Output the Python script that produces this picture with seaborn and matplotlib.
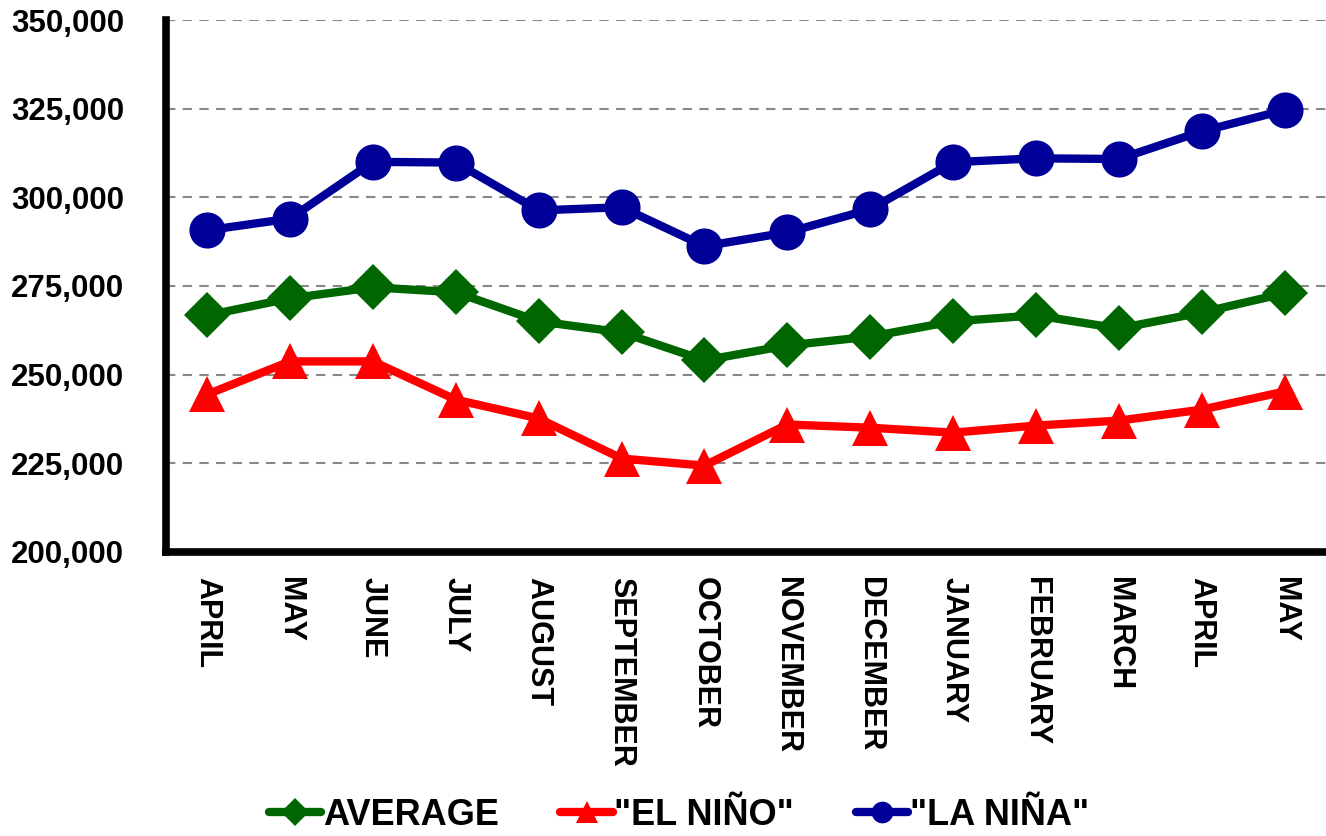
import matplotlib
matplotlib.use("Agg")
import matplotlib.pyplot as plt
import matplotlib.ticker as mticker
import seaborn as sns
import pandas as pd

months = ["APRIL", "MAY", "JUNE", "JULY", "AUGUST", "SEPTEMBER", "OCTOBER",
          "NOVEMBER", "DECEMBER", "JANUARY", "FEBRUARY", "MARCH", "APRIL", "MAY"]
average = [266700, 271500, 274600, 273200, 265000, 261900, 254000,
           258200, 260700, 265000, 266700, 263000, 267500, 272900]
el_nino = [244400, 253700, 253700, 242900, 237600, 226300, 224300,
           235900, 235000, 233600, 235600, 237000, 240100, 245200]
la_nina = [290700, 294000, 310000, 309800, 296300, 297200, 286200,
           290100, 296600, 309900, 311000, 310800, 318600, 324600]

sns.set_theme(style="white")
plt.rcParams["font.family"] = ["Liberation Sans", "DejaVu Sans"]
plt.rcParams["font.weight"] = "bold"
plt.rcParams["text.color"] = "black"
plt.rcParams["xtick.color"] = "black"
plt.rcParams["ytick.color"] = "black"

fig = plt.figure(figsize=(13.26, 8.36), dpi=100)
ax = fig.add_axes([0.125, 0.340, 0.875, 0.636])

x = list(range(len(months)))
series = [
    ("AVERAGE", average, "#006600", "D", 23),
    ('"EL NIÑO"', el_nino, "#FF0000", "^", 26),
    ('"LA NIÑA"', la_nina, "#000099", "o", 26),
]
for name, vals, color, marker, ms in series:
    df = pd.DataFrame({"x": x, "y": vals})
    sns.lineplot(data=df, x="x", y="y", ax=ax, color=color, linewidth=6,
                 marker=marker, markersize=ms, markeredgewidth=0,
                 markeredgecolor=color, label=name)

ax.set_xlim(-0.5, len(months) - 0.5)
ax.set_ylim(200000, 350000)
ax.yaxis.set_major_locator(mticker.MultipleLocator(25000))
ax.yaxis.set_major_formatter(mticker.FuncFormatter(lambda v, p: f"{int(v):,}"))
ax.set_xticks(x)
ax.set_xticklabels(months, rotation=-90, fontsize=22, fontweight="bold")
ax.set_xticks([i - 0.5 for i in range(len(months) + 1)], minor=True)
ax.tick_params(axis="x", which="major", length=0, pad=18)
ax.tick_params(axis="x", which="minor", length=8, width=5.5, direction="out", color="black")
ax.tick_params(axis="y", which="major", length=8, width=5.5, direction="out",
               color="black", labelsize=22.5, pad=22)
for lab in ax.get_yticklabels():
    lab.set_fontweight("bold")
ax.set_xlabel("")
ax.set_ylabel("")

for side in ["top", "right"]:
    ax.spines[side].set_visible(False)
for side in ["left", "bottom"]:
    ax.spines[side].set_linewidth(5.5)
    ax.spines[side].set_color("black")
    ax.spines[side].set_capstyle("projecting")

ax.grid(False)
for yv in range(225000, 350001, 25000):
    ax.axhline(yv, color="#888888", linewidth=1.5, linestyle=(0, (4.5, 3.5)), zorder=0)

ax.get_legend().remove()
handles, labels = ax.get_legend_handles_labels()
fig.legend(handles, labels, loc="lower center", bbox_to_anchor=(0.512, -0.035), ncol=3,
           frameon=False, markerscale=0.6, handlelength=1.45,
           handletextpad=0.05, columnspacing=1.7,
           prop={"weight": "bold", "size": 26})

fig.savefig("out.png", dpi=100)
